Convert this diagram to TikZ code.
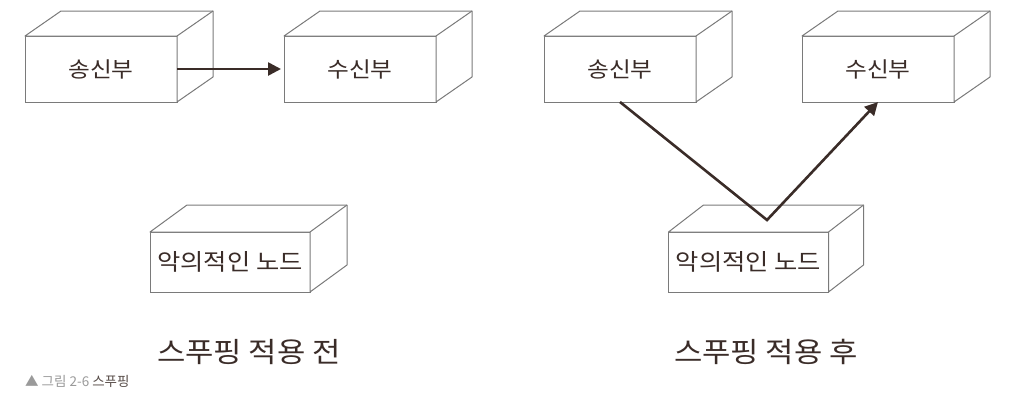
\documentclass[tikz,border=0pt]{standalone}
\usepackage{fontspec}
\newfontfamily\kr{Noto Sans CJK KR}
\newfontfamily\krw[FakeStretch=1.1]{Noto Sans CJK KR}
\usetikzlibrary{calc,arrows.meta}
\definecolor{ink}{HTML}{3A2C28}
\definecolor{boxgray}{HTML}{7A7A7A}
\definecolor{capgray}{HTML}{9A9A9A}
\tikzset{
  face/.style={draw=boxgray, line width=1pt, fill=white, rectangle, inner sep=0pt, outer sep=0pt, text=ink},
  endbox/.style={face, minimum width=152pt, minimum height=66pt, font=\krw\fontsize{21.5}{24}\selectfont},
  evilbox/.style={face, minimum width=160pt, minimum height=60pt, font=\krw\fontsize{23}{25}\selectfont},
  edgeline/.style={draw=boxgray, line width=1pt, fill=white, line join=round},
  conn/.style={draw=ink, line width=2.6pt, -{Triangle[length=13pt,width=13pt]}},
  titletext/.style={font=\krw\fontsize{28}{31}\selectfont, text=ink, inner sep=0pt},
  captext/.style={font=\kr\fontsize{13.5}{15}\selectfont, inner sep=0pt, anchor=west}
}
\newcommand\cuboid[3]{%
  \filldraw[edgeline] (#1.north west) -- ++(#2,-#3) -- ($(#1.north east)+(#2,-#3)$) -- ($(#1.south east)+(#2,-#3)$) -- (#1.south east) -- (#1.north east) -- cycle;
  \draw[edgeline] (#1.north east) -- ++(#2,-#3);}
\begin{document}
\begin{tikzpicture}[x=1pt,y=-1pt]
\useasboundingbox (0,0) rectangle (1036,402);
% left scenario
\node[endbox] (s1) at (101,69) {송신부};
\cuboid{s1}{36}{25}
\node[endbox] (r1) at (360,69) {수신부};
\cuboid{r1}{36}{25}
\node[evilbox] (m1) at (230,262) {악의적인 노드};
\cuboid{m1}{37}{27}
\draw[conn, shorten >=3pt] (s1.east) -- (r1.west);
\node[titletext] (t1) at (249,352) {스푸핑 적용 전};
% right scenario
\node[endbox] (s2) at (620,69) {송신부};
\cuboid{s2}{36}{25}
\node[endbox] (r2) at (878,69) {수신부};
\cuboid{r2}{36}{25}
\node[evilbox] (m2) at (748.5,262) {악의적인 노드};
\cuboid{m2}{35}{27}
\coordinate (v) at (767,220);
\draw[conn, line join=miter] (s2.south) -- (v) -- (r2.south);
\node[titletext] (t2) at (766,352) {스푸핑 적용 후};
% caption
\node[captext] (caption) at (25,381) {\textcolor{capgray}{▲ 그림 2-6} \textcolor{ink!85}{스푸핑}};
\end{tikzpicture}
\end{document}
